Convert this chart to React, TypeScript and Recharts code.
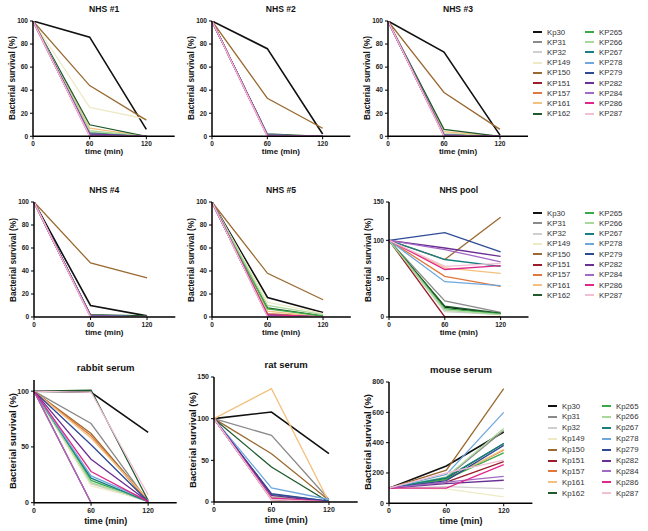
import React from 'react'
import { LineChart, Line, XAxis, YAxis } from 'recharts'

const TIMES = [0, 60, 120]

const STRAINS = ['Kp30', 'KP31', 'KP32', 'KP149', 'KP150', 'KP151', 'KP157', 'KP161', 'KP162',
  'KP265', 'KP266', 'KP267', 'KP278', 'KP279', 'KP282', 'KP284', 'KP286', 'KP287']
const MOUSE_STRAINS = ['Kp30', 'Kp31', 'Kp32', 'Kp149', 'Kp150', 'Kp151', 'Kp157', 'Kp161', 'Kp162',
  'Kp265', 'Kp266', 'Kp267', 'Kp278', 'Kp279', 'Kp282', 'Kp284', 'Kp286', 'Kp287']

const COLORS = ['#111111', '#8a8a8a', '#cfcfcf', '#efeac6', '#9a6a30', '#9b1c2a', '#e0783a', '#f3c07e', '#1f5a2c',
  '#3aaa48', '#a9d99a', '#177f82', '#6fa8dc', '#2d4a94', '#6a2f93', '#a469c4', '#e0288c', '#f2bfd6']

// survival (%) at 0, 60, 120 min, one row per strain (legend order)
const NHS1 = [[100, 86, 6], [100, 3, 0], [100, 4, 0], [100, 25, 15], [100, 44, 14], [100, 1, 0], [100, 2, 0], [100, 7, 0], [100, 10, 0],
  [100, 3, 0], [100, 5, 0], [100, 2, 0], [100, 2, 0], [100, 1, 0], [100, 2, 0], [100, 1, 0], [100, 0, 0], [100, 0, 0]]
const NHS2 = [[100, 76, 2], [100, 1, 0], [100, 1, 0], [100, 1, 0], [100, 33, 7], [100, 1, 0], [100, 1, 0], [100, 1, 0], [100, 2, 0],
  [100, 1, 0], [100, 1, 0], [100, 1, 0], [100, 1, 0], [100, 1, 0], [100, 1, 0], [100, 1, 0], [100, 0, 0], [100, 0, 0]]
const NHS3 = [[100, 73, 1], [100, 1, 0], [100, 1, 0], [100, 3, 0], [100, 38, 6], [100, 1, 0], [100, 1, 0], [100, 4, 0], [100, 6, 0],
  [100, 1, 0], [100, 2, 0], [100, 1, 0], [100, 1, 0], [100, 1, 0], [100, 1, 0], [100, 1, 0], [100, 0, 0], [100, 0, 0]]
const NHS4 = [[100, 10, 1], [100, 1, 1], [100, 1, 0], [100, 1, 0], [100, 47, 34], [100, 1, 0], [100, 1, 0], [100, 1, 0], [100, 2, 1],
  [100, 1, 0], [100, 1, 0], [100, 1, 0], [100, 1, 0], [100, 1, 0], [100, 1, 0], [100, 1, 0], [100, 0, 0], [100, 0, 0]]
const NHS5 = [[100, 17, 4], [100, 2, 0], [100, 3, 0], [100, 13, 3], [100, 38, 15], [100, 1, 0], [100, 3, 0], [100, 5, 0], [100, 8, 1],
  [100, 7, 1], [100, 10, 2], [100, 2, 0], [100, 1, 0], [100, 1, 0], [100, 1, 0], [100, 1, 0], [100, 2, 0], [100, 0, 0]]
const POOL = [[100, 13, 4], [100, 21, 6], [100, 7, 3], [100, 10, 3], [100, 75, 130], [100, 0, 0], [100, 53, 40], [100, 64, 57], [100, 14, 5],
  [100, 11, 4], [100, 9, 3], [100, 75, 66], [100, 46, 41], [100, 110, 85], [100, 90, 79], [100, 88, 72], [100, 62, 67], [100, 66, 70]]
const RABBIT = [[100, 99, 63], [100, 71, 1], [100, 17, 1], [100, 15, 2], [100, 62, 2], [100, 0, 0], [100, 60, 1], [100, 58, 3], [100, 101, 2],
  [100, 20, 1], [100, 18, 2], [100, 22, 1], [100, 24, 2], [100, 52, 1], [100, 39, 1], [100, 0, 0], [100, 28, 1], [100, 99, 7]]
const RAT = [[100, 108, 58], [100, 80, 3], [100, 4, 1], [100, 6, 1], [100, 58, 2], [100, 3, 0], [100, 5, 1], [100, 136, 0], [100, 42, 0],
  [100, 4, 0], [100, 6, 1], [100, 9, 1], [100, 17, 3], [100, 10, 1], [100, 8, 0], [100, 4, 0], [100, 5, 0], [100, 3, 0]]
const MOUSE = [[100, 246, 470], [100, 170, 480], [100, 110, 97], [100, 95, 42], [100, 218, 756], [100, 140, 275], [100, 160, 350], [100, 155, 356], [100, 165, 394],
  [100, 160, 332], [100, 175, 493], [100, 170, 394], [100, 190, 600], [100, 150, 382], [100, 130, 152], [100, 140, 178], [100, 100, 255], [100, 200, 284]]

const FONT = '"Liberation Sans", Arial, sans-serif'
const YW = 30
const MT = 6
const XH = 16

function toRows(values: number[][]) {
  return TIMES.map((t, i) => {
    const row: Record<string, number> = { t }
    values.forEach((v, s) => { row['s' + s] = v[i] })
    return row
  })
}

interface PanelProps {
  title: string
  values: number[][]
  x0: number
  xEnd: number
  yTop: number
  yBot: number
  yMax: number
  yTicks: number[]
  big?: boolean
}

function Panel({ title, values, x0, xEnd, yTop, yBot, yMax, yTicks, big }: PanelProps) {
  const width = YW + (xEnd - x0) + 2
  const height = MT + (yBot - yTop) + XH
  const tick = { fontSize: big ? 7 : 6.5, fontWeight: 700, fill: '#222', fontFamily: FONT }
  const axisLine = { stroke: '#000', strokeWidth: 1.5 }
  const labelSize = big ? 9.5 : 8.3
  return (
    <>
      <div style={{ position: 'absolute', left: x0 - YW, top: yTop - MT }}>
        <LineChart width={width} height={height} data={toRows(values)} margin={{ top: MT, right: 2, bottom: 0, left: 0 }}>
          <XAxis dataKey="t" type="number" domain={[0, 150]} ticks={TIMES} height={XH} tick={tick}
            axisLine={axisLine} tickLine={{ stroke: '#000' }} tickSize={3} interval={0} />
          <YAxis type="number" domain={[0, yMax]} ticks={yTicks} width={YW} tick={tick}
            axisLine={axisLine} tickLine={{ stroke: '#000' }} tickSize={3} interval={0} allowDataOverflow />
          {values.map((_, i) => (
            <Line key={i} type="linear" dataKey={'s' + i} stroke={COLORS[i]} strokeWidth={i === 0 ? 1.6 : 1.3}
              dot={false} isAnimationActive={false} />
          ))}
        </LineChart>
      </div>
      <div style={{ position: 'absolute', left: (x0 + xEnd) / 2 - 60, width: 120, top: yTop - (big ? 18 : 17),
        textAlign: 'center', fontFamily: FONT, fontWeight: 700, fontSize: big ? 9.5 : 8.6, color: '#111' }}>
        {title}
      </div>
      <div style={{ position: 'absolute', left: x0 - 21 - 60, top: (yTop + yBot) / 2 - 6, width: 120,
        textAlign: 'center', transform: 'rotate(-90deg)', fontFamily: FONT, fontWeight: 700, fontSize: labelSize,
        color: '#111', whiteSpace: 'nowrap', lineHeight: '12px' }}>
        Bacterial survival (%)
      </div>
      <div style={{ position: 'absolute', left: (x0 + xEnd) / 2 - 50, width: 100, top: yBot + (big ? 13 : 11),
        textAlign: 'center', fontFamily: FONT, fontWeight: 700, fontSize: big ? 9 : 8, color: '#111' }}>
        time (min)
      </div>
    </>
  )
}

function LegendBox({ names, left, top, gap, colGap, fontSize }: { names: string[]; left: number; top: number; gap: number; colGap: number; fontSize: number }) {
  return (
    <div style={{ position: 'absolute', left, top }}>
      {names.map((n, i) => {
        const col = Math.floor(i / 9)
        const row = i % 9
        return (
          <div key={n} style={{ position: 'absolute', left: col * colGap, top: row * gap, display: 'flex', alignItems: 'center',
            fontFamily: FONT, fontSize, color: '#333', whiteSpace: 'nowrap', height: 10 }}>
            <div style={{ width: 9, height: 2, background: COLORS[i], marginRight: 5 }} />
            {n}
          </div>
        )
      })}
    </div>
  )
}

export default function App() {
  return (
    <div style={{ position: 'absolute', left: 0, top: 0, width: 648, height: 531, background: '#fff', overflow: 'hidden' }}>
      <Panel title="NHS #1" values={NHS1} x0={33.3} xEnd={175} yTop={20.7} yBot={136} yMax={100} yTicks={[0, 20, 40, 60, 80, 100]} />
      <Panel title="NHS #2" values={NHS2} x0={211.7} xEnd={350} yTop={20.7} yBot={136} yMax={100} yTicks={[0, 20, 40, 60, 80, 100]} />
      <Panel title="NHS #3" values={NHS3} x0={388} xEnd={528} yTop={20.7} yBot={136} yMax={100} yTicks={[0, 20, 40, 60, 80, 100]} />
      <Panel title="NHS #4" values={NHS4} x0={33.7} xEnd={175} yTop={202} yBot={317} yMax={100} yTicks={[0, 20, 40, 60, 80, 100]} />
      <Panel title="NHS #5" values={NHS5} x0={211.7} xEnd={350.5} yTop={202} yBot={317} yMax={100} yTicks={[0, 20, 40, 60, 80, 100]} />
      <Panel title="NHS pool" values={POOL} x0={389} xEnd={528.5} yTop={202} yBot={317} yMax={150} yTicks={[0, 50, 100, 150]} />
      <Panel title="rabbit serum" values={RABBIT} x0={34.3} xEnd={177} yTop={380} yBot={502.7} yMax={110} yTicks={[0, 50, 100]} big />
      <Panel title="rat serum" values={RAT} x0={214.3} xEnd={358} yTop={377} yBot={502} yMax={150} yTicks={[0, 50, 100, 150]} big />
      <Panel title="mouse serum" values={MOUSE} x0={389.3} xEnd={532.7} yTop={381.7} yBot={503} yMax={800} yTicks={[0, 200, 400, 600, 800]} big />
      <LegendBox names={STRAINS} left={533} top={27} gap={10.2} colGap={52} fontSize={7.8} />
      <LegendBox names={STRAINS} left={533} top={208} gap={10.3} colGap={52} fontSize={7.8} />
      <LegendBox names={MOUSE_STRAINS} left={548} top={401} gap={10.9} colGap={54} fontSize={7.8} />
    </div>
  )
}
